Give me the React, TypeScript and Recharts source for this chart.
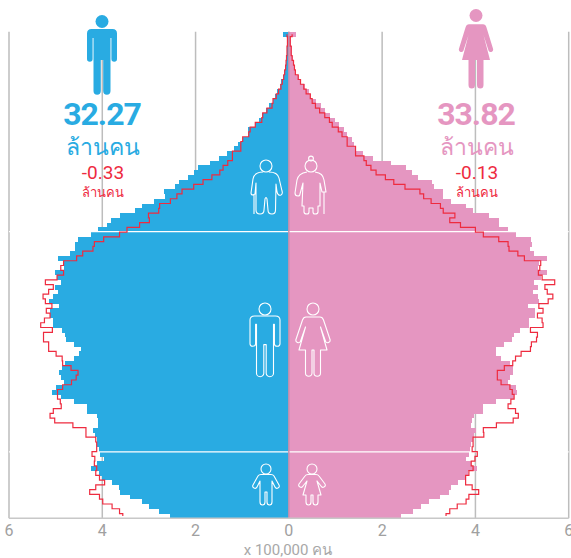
import { ComposedChart, Bar, Line, XAxis, YAxis, CartesianGrid, ReferenceLine } from 'recharts';

// single year rows from the bottom of the pyramid, unit = 100,000 people
const maleNow = [
  2.54, 2.79, 2.99, 3.15, 3.40, 3.62, 3.65, 3.79, 4.01, 4.06,
  4.25, 4.12, 3.96, 4.05, 4.06, 4.12, 4.12, 4.15, 4.20, 4.10,
  4.10, 4.12, 4.32, 4.32, 4.60, 4.89, 5.07, 5.00, 4.83, 4.88,
  4.92, 4.87, 4.81, 4.60, 4.50, 4.46, 4.60, 4.77, 4.79, 4.87,
  5.05, 5.05, 5.12, 5.12, 4.93, 5.15, 5.06, 4.95, 5.01, 4.88,
  4.97, 5.02, 4.83, 4.83, 4.94, 4.70, 4.58, 4.58, 4.52, 4.25,
  4.10, 3.89, 3.82, 3.63, 3.29, 3.15, 2.89, 2.65, 2.67, 2.44,
  2.36, 2.16, 2.03, 1.94, 1.69, 1.49, 1.33, 1.17, 1.08, 0.99,
  0.87, 0.87, 0.72, 0.63, 0.57, 0.48, 0.42, 0.35, 0.29, 0.25,
  0.20, 0.16, 0.12, 0.10, 0.07, 0.06, 0.05, 0.04, 0.03, 0.03,
  0.03, 0.13,
];
const femaleNow = [
  2.41, 2.66, 2.84, 3.01, 3.24, 3.43, 3.48, 3.62, 3.79, 3.84,
  4.04, 3.90, 3.79, 3.86, 3.88, 3.91, 3.95, 3.97, 4.02, 3.91,
  3.93, 3.97, 4.17, 4.17, 4.45, 4.83, 4.90, 4.86, 4.70, 4.75,
  4.81, 4.81, 4.74, 4.54, 4.45, 4.45, 4.61, 4.79, 4.82, 4.95,
  5.14, 5.14, 5.27, 5.27, 5.12, 5.36, 5.34, 5.24, 5.34, 5.25,
  5.40, 5.54, 5.34, 5.36, 5.54, 5.25, 5.18, 5.22, 5.20, 4.86,
  4.70, 4.50, 4.50, 4.29, 3.95, 3.79, 3.47, 3.31, 3.31, 3.12,
  3.06, 2.76, 2.63, 2.51, 2.20, 1.80, 1.58, 1.43, 1.39, 1.36,
  1.25, 1.18, 1.07, 1.00, 0.88, 0.77, 0.68, 0.58, 0.48, 0.43,
  0.34, 0.27, 0.21, 0.14, 0.12, 0.10, 0.08, 0.07, 0.06, 0.05,
  0.05, 0.16,
];
const malePrev = [
  3.56, 3.63, 3.79, 3.99, 4.06, 4.27, 4.14, 3.95, 4.06, 4.14,
  4.12, 4.17, 4.16, 4.22, 4.12, 4.12, 4.14, 4.35, 4.35, 4.63,
  5.02, 5.12, 5.05, 4.88, 4.90, 4.96, 4.96, 4.85, 4.66, 4.56,
  4.52, 4.67, 4.85, 4.86, 4.99, 5.15, 5.15, 5.26, 5.26, 5.07,
  5.32, 5.24, 5.12, 5.20, 5.08, 5.22, 5.27, 5.15, 5.05, 5.22,
  4.97, 4.83, 4.89, 4.83, 4.55, 4.42, 4.20, 4.17, 3.97, 3.63,
  3.47, 3.20, 2.99, 3.01, 2.79, 2.77, 2.54, 2.40, 2.29, 2.04,
  1.84, 1.65, 1.48, 1.41, 1.31, 1.21, 1.21, 1.03, 1.03, 0.99,
  0.86, 0.83, 0.72, 0.58, 0.56, 0.47, 0.36, 0.34, 0.27, 0.22,
  0.17, 0.14, 0.11, 0.09, 0.07, 0.06, 0.05, 0.04, 0.04, 0.03,
  0.03, 0.04,
];
const femalePrev = [
  3.37, 3.45, 3.61, 3.80, 3.86, 4.07, 3.93, 3.79, 3.79, 3.86,
  3.95, 3.91, 3.99, 4.04, 3.93, 3.95, 3.95, 4.18, 4.17, 4.45,
  4.81, 4.92, 4.86, 4.70, 4.76, 4.83, 4.79, 4.74, 4.55, 4.47,
  4.47, 4.62, 4.80, 4.86, 4.98, 5.18, 5.20, 5.31, 5.33, 5.18,
  5.45, 5.43, 5.33, 5.45, 5.36, 5.56, 5.66, 5.54, 5.49, 5.70,
  5.43, 5.35, 5.38, 5.40, 5.05, 4.91, 4.72, 4.70, 4.50, 4.17,
  4.00, 3.68, 3.45, 3.56, 3.31, 3.25, 3.05, 2.89, 2.81, 2.49,
  2.25, 2.07, 1.87, 1.76, 1.66, 1.61, 1.43, 1.43, 1.25, 1.25,
  1.14, 1.06, 0.93, 0.87, 0.77, 0.66, 0.57, 0.50, 0.46, 0.37,
  0.32, 0.25, 0.20, 0.14, 0.12, 0.10, 0.07, 0.05, 0.05, 0.03,
  0.03, 0.07,
];
const xTicks = [-6, -4, -2, 0, 2, 4, 6];
const groupEdges = [13.8, 59.5];

const rows = maleNow.map((m, i) => ({
  age: i,
  male: -m,
  female: femaleNow[i],
  malePrev: -malePrev[i],
  femalePrev: femalePrev[i],
}));

const BLUE = '#29ABE2';
const PINK = '#E596C1';
const RED = '#EE2B3F';
const GREY = '#BDBDBD';
const FONT = 'Roboto, "Noto Sans", sans-serif';

// the stairs in the old population outline change at row edges, not at row centres
const rowStep = (ctx: any) => {
  let px = 0;
  let py = 0;
  let n = 0;
  return {
    areaStart() {},
    areaEnd() {},
    lineStart() { n = 0; },
    lineEnd() {},
    point(x: number, y: number) {
      if (n === 0) {
        ctx.moveTo(x, y);
      } else {
        const mid = (py + y) / 2;
        ctx.lineTo(px, mid);
        ctx.lineTo(x, mid);
        ctx.lineTo(x, y);
      }
      px = x;
      py = y;
      n++;
    },
  };
};

const MAN = 'M-10.5 14H10.5Q15 14 15 18.5V44A2.8 2.8 0 0 1 9.4 44V23H8.5V76A3.65 3.65 0 0 1 1.2 76V45H-1.2V76A3.65 3.65 0 0 1-8.5 76V23H-9.4V44A2.8 2.8 0 0 1-15 44V18.5Q-15 14-10.5 14Z';
const WOMAN = 'M-7 14H7Q9.5 14 10.5 17L17.2 37A2.5 2.5 0 0 1 12.6 38.5L7.5 24 14 47H7.5V70A3.25 3.25 0 0 1 1 70V47H-1V70A3.25 3.25 0 0 1-7.5 70V47H-14L-7.5 24-12.6 38.5A2.5 2.5 0 0 1-17.2 37L-10.5 17Q-9.5 14-7 14Z';
const OLD_MAN = 'M-3 6C-8 6-12 8-13 13L-15 27Q-15 29-13 29L-11 28-10 17-10 44Q-10 48-6 48-2 48-2 44L-1 33Q0 30 1 33L2 44Q2 48 6 48 9.5 48 9.5 44L10 18 11 26Q12 30 15 29 17 28 16 25L13 12C12 8 8 6 3 6M-12 28V48';
const OLD_WOMAN = 'M-4 6C-10 7-13 9-14 14L-16 27Q-16 30-13 30-11 30-11 28L-8 17-9 40H-7V46Q-7 48-4 48-2 48-2 46V42H2V46Q2 48 4 48 7 48 7 46V40H9V17L11 26H15L13 14C12 9 10 7 4 6M13 26V48';
const BOY = 'M-5 5.5H5Q7 5.5 8 7L13 16Q14 18 12 19 10 20 9 18L6 12V33Q6 36 3.5 36 1 36 1 33V23H-1V33Q-1 36-3.5 36-6 36-6 33V12L-9 18Q-10 20-12 19-14 18-13 16L-8 7Q-7 5.5-5 5.5Z';
const GIRL = 'M-4 5.5H4Q6 5.5 7 7L13 15Q14 17 12 18 10 19 9 17L5 12 9 26H6V33Q6 36 3.5 36 1 36 1 33V26H-1V33Q-1 36-3.5 36-6 36-6 33V26H-9L-5 12-9 17Q-10 19-12 18-14 17-13 15L-7 7Q-6 5.5-4 5.5Z';

const Outline = ({ x, y, d, r, bun, dy = 0, sy = 1 }: { x: number; y: number; d: string; r: number; bun?: boolean; dy?: number; sy?: number }) => (
  <g transform={`translate(${x} ${y})`} fill="none" stroke="#fff" strokeWidth={1.1} strokeLinejoin="round">
    <circle cx={0} cy={0} r={r} />
    {bun && <circle cx={0} cy={-7.5} r={2.4} />}
    <path d={d} transform={`translate(0 ${dy}) scale(1 ${sy})`} />
  </g>
);

const Side = ({ x, color, total, change }: { x: number; color: string; total: string; change: string }) => (
  <g textAnchor="middle" fontFamily={FONT}>
    <text x={x} y={125} fill={color} fontSize={32} fontWeight={700} letterSpacing={-1}>{total}</text>
    <text x={x + 1} y={155} fill={color} fontSize={23}>ล้านคน</text>
    <text x={x + 1} y={179} fill={RED} fontSize={19}>{change}</text>
    <text x={x + 1} y={197} fill={RED} fontSize={13}>ล้านคน</text>
  </g>
);

const App = () => {
  return (
    <div style={{ position: 'absolute', left: 0, top: 0, width: 571, height: 558, overflow: 'hidden', background: '#fff' }}>
      <ComposedChart
        width={571}
        height={558}
        data={rows}
        layout="vertical"
        stackOffset="sign"
        barCategoryGap={0}
        margin={{ top: 31.8, right: 2.3, bottom: 9.7, left: 9 }}
      >
        <CartesianGrid horizontal={false} stroke={GREY} strokeWidth={1.5} />
        <XAxis
          type="number"
          domain={[-6, 6]}
          ticks={xTicks}
          height={30}
          tickLine={false}
          tickMargin={0}
          axisLine={{ stroke: '#C8C8C8', strokeWidth: 1.5 }}
          tick={{ fill: '#A0A0A0', fontSize: 16, fontFamily: FONT }}
          tickFormatter={(v: number) => String(Math.abs(v))}
          interval={0}
        />
        <YAxis yAxisId="rows" type="category" dataKey="age" reversed hide />
        <YAxis yAxisId="edge" type="number" domain={[0, 102]} allowDataOverflow reversed hide />
        <Bar yAxisId="rows" dataKey="male" stackId="a" fill={BLUE} shapeRendering="crispEdges" isAnimationActive={false} />
        <Bar yAxisId="rows" dataKey="female" stackId="a" fill={PINK} shapeRendering="crispEdges" isAnimationActive={false} />
        {groupEdges.map((e) => (
          <ReferenceLine key={e} yAxisId="edge" y={e} stroke="#fff" strokeWidth={1.3} />
        ))}
        <ReferenceLine yAxisId="edge" x={0} stroke="#C98FAB" strokeWidth={1.5} />
        <Line yAxisId="rows" dataKey="malePrev" type={rowStep as any} stroke={RED} strokeWidth={1.2} dot={false} activeDot={false} isAnimationActive={false} />
        <Line yAxisId="rows" dataKey="femalePrev" type={rowStep as any} stroke={RED} strokeWidth={1.2} dot={false} activeDot={false} isAnimationActive={false} />
      </ComposedChart>
      <svg width={571} height={558} style={{ position: 'absolute', left: 0, top: 0 }}>
        <g transform="translate(102 15)" fill={BLUE}>
          <circle cx={0} cy={6.5} r={6.5} />
          <path d={MAN} />
        </g>
        <g transform="translate(476 9)" fill={PINK}>
          <circle cx={0} cy={6.5} r={6.5} />
          <path d={WOMAN} transform="scale(1 1.085)" />
        </g>
        <Side x={102} color={BLUE} total="32.27" change="-0.33" />
        <Side x={476} color={PINK} total="33.82" change="-0.13" />
        <Outline x={266} y={166} d={OLD_MAN} r={6} />
        <Outline x={311} y={166} d={OLD_WOMAN} r={6} bun />
        <Outline x={265} y={309} d={MAN} r={6} dy={-6} sy={0.925} />
        <Outline x={313} y={309} d={WOMAN} r={6} dy={-6} />
        <Outline x={266} y={469} d={BOY} r={5} />
        <Outline x={312} y={469} d={GIRL} r={5} />
        <text x={288} y={555} textAnchor="middle" fill="#A8A8A8" fontSize={15} fontFamily={FONT}>x 100,000 คน</text>
      </svg>
    </div>
  );
};

export default App;
